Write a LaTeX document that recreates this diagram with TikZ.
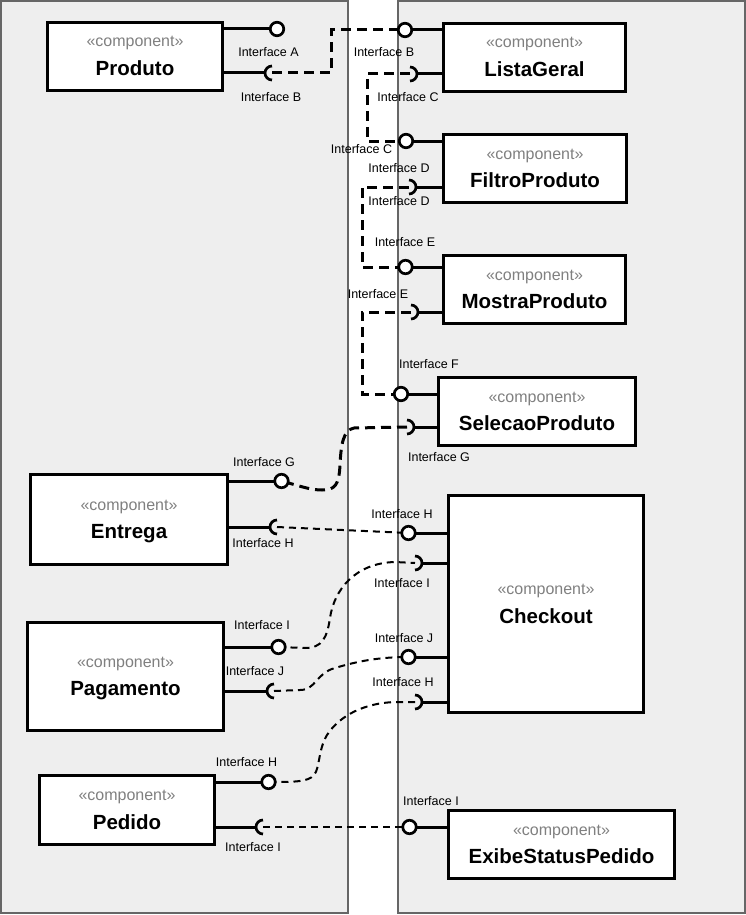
\documentclass[tikz,border=0pt]{standalone}
\usepackage{fontspec}
\setmainfont{Liberation Sans}
\usetikzlibrary{calc}
\definecolor{panelfill}{HTML}{EEEEEE}
\definecolor{panelline}{HTML}{666666}
\definecolor{stereogray}{HTML}{808080}
\tikzset{
 panel/.style={fill=panelfill, draw=panelline, line width=2pt},
 comp/.style={draw=black, fill=white, line width=3pt, inner sep=0pt},
 stereo/.style={anchor=base, text=stereogray, font=\fontsize{16}{19}\selectfont, inner sep=0pt},
 cname/.style={anchor=base, font=\fontsize{20.5}{24}\selectfont\bfseries, inner sep=0pt},
 portline/.style={line width=3pt},
 ball/.style={circle, draw=black, fill=white, line width=2.7pt, minimum size=13.5pt, inner sep=0pt},
 socketarc/.style={line width=2.7pt},
 ilabel/.style={font=\fontsize{12.5}{14}\selectfont, inner sep=0pt},
 conn/.style={line width=3pt, dash pattern=on 10pt off 6pt},
 connthin/.style={line width=2pt, dash pattern=on 7pt off 5pt},
}
\newcommand\umlcomp[6]{%
 \node[comp, minimum width=#4pt, minimum height=#5pt] (#1) at (#2,#3) {};
 \node[stereo] (#1-st) at ($(#1.center)+(0,-9.5)$) {«component»};
 \node[cname] (#1-nm) at ($(#1.center)+(0,19)$) {#6};
}
\newcommand\lsock[1]{\draw[socketarc] ($(#1)+(0,-7)$) arc[start angle=90,end angle=270,radius=7pt];}
\newcommand\rsock[1]{\draw[socketarc] ($(#1)+(0,-7)$) arc[start angle=90,end angle=-90,radius=7pt];}
\begin{document}
\begin{tikzpicture}[x=1pt,y=-1pt]
\useasboundingbox (0,0) rectangle (746,915);
% panels
\draw[panel] (1,1) rectangle (348,913);
\draw[panel] (398,1) rectangle (745,913);
% components
\umlcomp{produto}{135}{56.5}{175}{68}{Produto}
\umlcomp{lista}{534.5}{57.5}{182}{68}{ListaGeral}
\umlcomp{filtro}{535}{168.5}{183}{68}{FiltroProduto}
\umlcomp{mostra}{534.5}{289.5}{182}{68}{MostraProduto}
\umlcomp{selecao}{537}{411.5}{197}{68}{SelecaoProduto}
\umlcomp{entrega}{129}{519.5}{197}{90}{Entrega}
\umlcomp{checkout}{546}{604}{195}{217}{Checkout}
\umlcomp{pagamento}{125.5}{676.5}{196}{108}{Pagamento}
\umlcomp{pedido}{127}{810}{175}{69}{Pedido}
\umlcomp{exibe}{561.5}{844.5}{226}{68}{ExibeStatusPedido}
% port positions
\coordinate (pA) at (277,29);
\coordinate (pB) at (272,73);
\coordinate (lB) at (405,30);
\coordinate (lC) at (410,74);
\coordinate (fC) at (406,141);
\coordinate (fD) at (409,187);
\coordinate (mE) at (405.5,267);
\coordinate (mEs) at (411,312);
\coordinate (sF) at (401,394);
\coordinate (sG) at (407,427);
\coordinate (eG) at (281.5,481);
\coordinate (eH) at (277,527);
\coordinate (cH) at (408.5,533);
\coordinate (cI) at (415,563);
\coordinate (cJ) at (408.5,657);
\coordinate (cH2) at (415,702);
\coordinate (gI) at (278.5,647);
\coordinate (gJ) at (274,691);
\coordinate (dH) at (268.5,782);
\coordinate (dI) at (263,827);
\coordinate (xI) at (409.5,827);
% connectors
\draw[conn] (pB) -- ++(59,0) |- (lB);
\draw[conn] (lC) -- ++(-43,0) |- (fC);
\draw[conn] (fD) -- ++(-47,0) |- (mE);
\draw[conn] (mEs) -- ++(-49,0) |- (sF);
\draw[conn] (sG) -- (354,428) .. controls (343,430) and (341,445) .. (340,465) .. controls (339,485) and (335,490) .. (322,490) .. controls (310,490) and (300,486) .. (eG);
\draw[connthin] (eH) -- (cH);
\draw[connthin] (gI) -- (305,648) .. controls (322,648) and (327,638) .. (330,618) .. controls (334,590) and (355,563) .. (395,562) -- (cI);
\draw[connthin] (gJ) -- (300,690) .. controls (316,690) and (316,673) .. (335,668) .. controls (358,661) and (380,657) .. (cJ);
\draw[connthin] (cH2) -- (395,702) .. controls (365,703) and (340,715) .. (327,735) .. controls (318,750) and (320,768) .. (314,775) .. controls (308,782) and (295,782) .. (dH);
\draw[connthin] (dI) -- (xI);
% port lines
\draw[portline] (produto.east |- pA) -- (pA);
\draw[portline] (produto.east |- pB) -- ($(pB)+(-7,0)$);
\draw[portline] (lista.west |- lB) -- (lB);
\draw[portline] (lista.west |- lC) -- ($(lC)+(7,0)$);
\draw[portline] (filtro.west |- fC) -- (fC);
\draw[portline] (filtro.west |- fD) -- ($(fD)+(7,0)$);
\draw[portline] (mostra.west |- mE) -- (mE);
\draw[portline] (mostra.west |- mEs) -- ($(mEs)+(7,0)$);
\draw[portline] (selecao.west |- sF) -- (sF);
\draw[portline] (selecao.west |- sG) -- ($(sG)+(7,0)$);
\draw[portline] (entrega.east |- eG) -- (eG);
\draw[portline] (entrega.east |- eH) -- ($(eH)+(-7,0)$);
\draw[portline] (checkout.west |- cH) -- (cH);
\draw[portline] (checkout.west |- cI) -- ($(cI)+(7,0)$);
\draw[portline] (checkout.west |- cJ) -- (cJ);
\draw[portline] (checkout.west |- cH2) -- ($(cH2)+(7,0)$);
\draw[portline] (pagamento.east |- gI) -- (gI);
\draw[portline] (pagamento.east |- gJ) -- ($(gJ)+(-7,0)$);
\draw[portline] (pedido.east |- dH) -- (dH);
\draw[portline] (pedido.east |- dI) -- ($(dI)+(-7,0)$);
\draw[portline] (exibe.west |- xI) -- (xI);
% balls
\foreach \b in {pA,lB,fC,mE,sF,eG,cH,cJ,gI,dH,xI} { \node[ball] at (\b) {}; }
% sockets
\lsock{pB} \lsock{eH} \lsock{gJ} \lsock{dI}
\rsock{lC} \rsock{fD} \rsock{mEs} \rsock{sG} \rsock{cI} \rsock{cH2}
% labels
\node[ilabel] (t1) at (268.5,52) {Interface A};
\node[ilabel] (t2) at (271,97) {Interface B};
\node[ilabel] (t3) at (384,52) {Interface B};
\node[ilabel] (t4) at (408,97) {Interface C};
\node[ilabel] (t5) at (361.5,149.5) {Interface C};
\node[ilabel] (t6) at (399,168) {Interface D};
\node[ilabel] (t7) at (399,201) {Interface D};
\node[ilabel] (t8) at (405,242) {Interface E};
\node[ilabel] (t9) at (378,294) {Interface E};
\node[ilabel] (t10) at (429,364) {Interface F};
\node[ilabel] (t11) at (439,457) {Interface G};
\node[ilabel] (t12) at (264,462) {Interface G};
\node[ilabel] (t13) at (263,543) {Interface H};
\node[ilabel] (t14) at (402,514) {Interface H};
\node[ilabel] (t15) at (402,583) {Interface I};
\node[ilabel] (t16) at (404,638) {Interface J};
\node[ilabel] (t17) at (403,682) {Interface H};
\node[ilabel] (t18) at (262,625) {Interface I};
\node[ilabel] (t19) at (255,671) {Interface J};
\node[ilabel] (t20) at (246.5,762) {Interface H};
\node[ilabel] (t21) at (253,847) {Interface I};
\node[ilabel] (t22) at (431,801) {Interface I};
\end{tikzpicture}
\end{document}
